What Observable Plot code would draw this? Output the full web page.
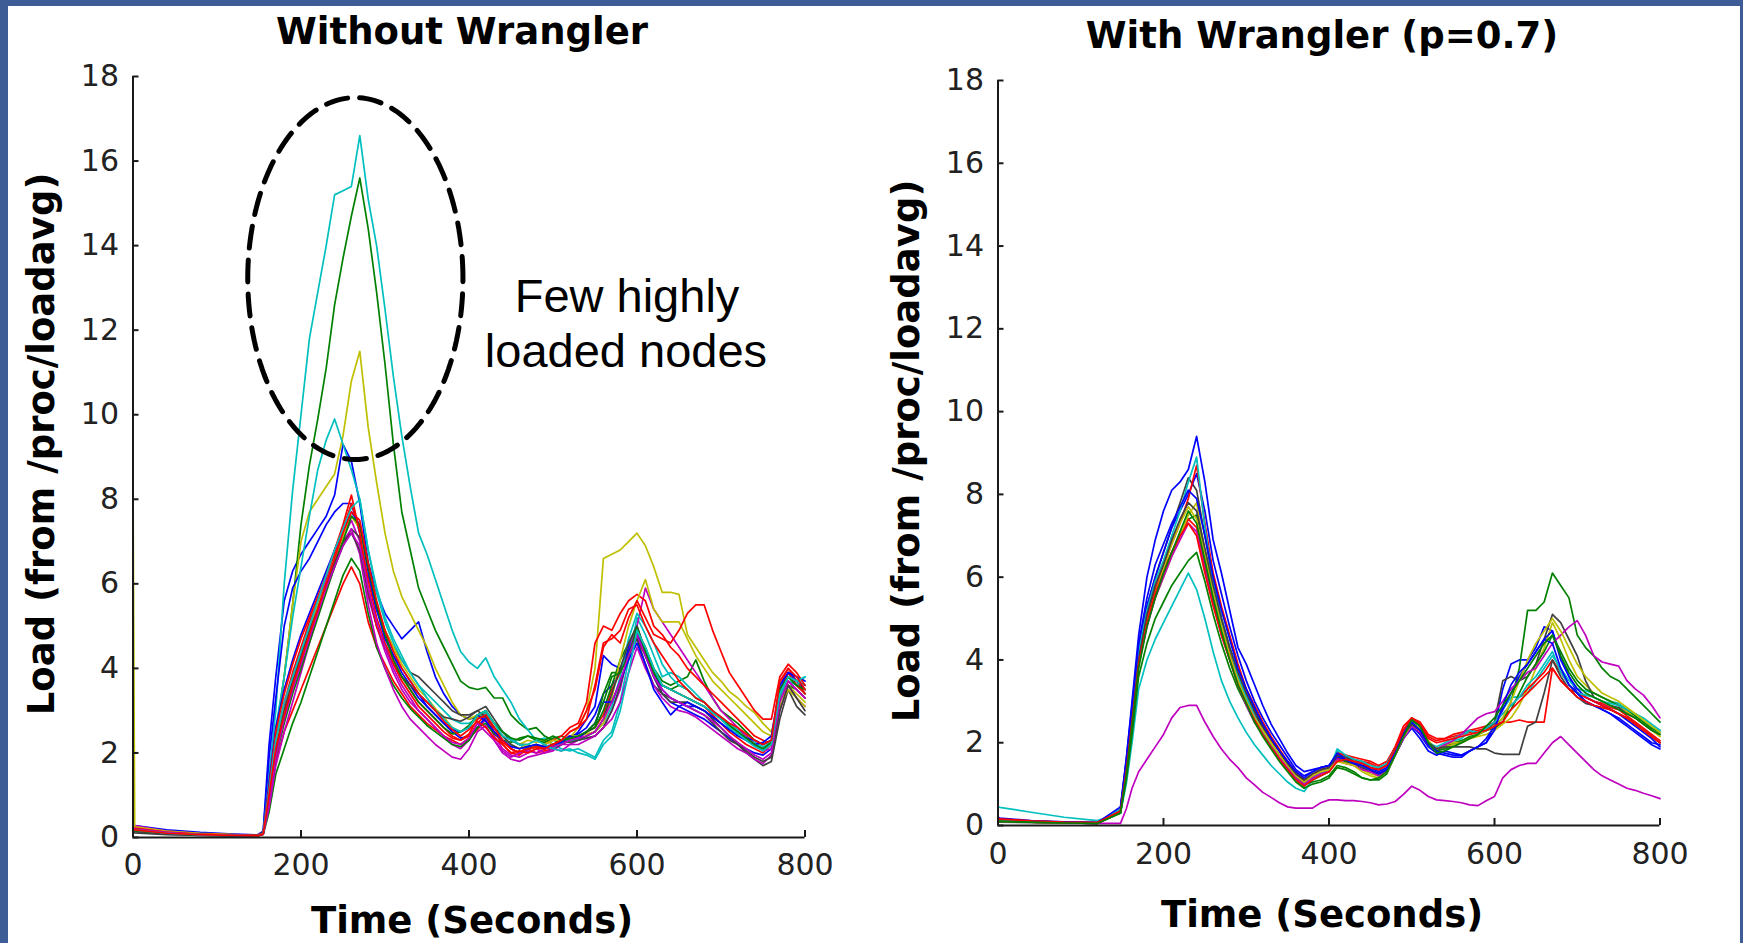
<!DOCTYPE html>
<html>
<head>
<meta charset="utf-8">
<script src="https://cdn.jsdelivr.net/npm/d3@7"></script>
<script src="https://cdn.jsdelivr.net/npm/@observablehq/plot@0.6"></script>
<style>
html, body { margin: 0; padding: 0; background: #fff; overflow: hidden; }
#page { position: relative; width: 1743px; height: 943px; overflow: hidden; background: #fff; }
.band { position: absolute; background: #3e5c96; }
.panel { position: absolute; top: 0; }
.lbl { position: absolute; white-space: nowrap; line-height: 1; color: #000;
       font-family: "DejaVu Sans", sans-serif; font-weight: bold; font-size: 37px; }
.note { position: absolute; white-space: nowrap; line-height: 1; color: #000;
        font-family: "Liberation Sans", Arial, sans-serif; font-size: 47px; }
</style>
</head>
<body>
<div id="page"></div>
<script>
// ---------- shared sample times (seconds) ----------
const times = [0,2,40,80,120,148,155,162,
  170,180,190,200,210,220,230,240,250,260,
  270,280,290,300,310,320,330,340,350,360,
  370,380,390,400,410,420,430,440,450,460,
  470,480,490,500,510,520,530,540,550,560,
  570,580,590,600,610,620,630,640,650,660,
  670,680,690,700,710,720,730,740,750,760,
  770,780,790,800];

const xTicks = [0, 200, 400, 600, 800];
const yTicks = [0, 2, 4, 6, 8, 10, 12, 14, 16, 18];

const matlabColors = {b: "#0000ff", g: "#008000", r: "#ff0000", c: "#00bfbf", m: "#bf00bf", y: "#bfbf00", k: "#404040"};

// ---------- Without Wrangler (left panel) ----------
const leftBlue1 = [0.30,0.28,0.18,0.12,0.08,0.06,0.15,2.2,
  3.8,5.6,6.3,6.7,7.0,7.3,7.6,8.1,9.3,8.9,
  7.9,6.5,5.8,5.3,5.0,4.7,4.9,5.1,4.4,3.8,
  3.4,3.1,2.9,2.8,2.85,2.95,2.7,2.5,2.3,2.2,
  2.1,2.2,2.1,2.15,2.3,2.4,2.45,2.6,2.9,3.4,
  3.6,3.9,4.5,4.9,4.3,3.8,3.4,3.2,3.1,3.0,
  2.9,2.8,2.65,2.5,2.35,2.2,2.1,2.0,1.95,2.1,
  3.3,3.9,3.7,3.5];
const leftGreen1 = [0.22,0.2,0.12,0.08,0.06,0.05,0.1,1.2,
  2.4,3.8,5.5,7.4,8.8,9.9,11.1,12.6,13.7,14.7,
  15.6,14.4,12.9,11.2,9.3,7.7,6.8,5.9,5.4,4.9,
  4.5,4.1,3.7,3.55,3.5,3.55,3.3,3.3,2.9,2.7,
  2.55,2.6,2.4,2.3,2.25,2.3,2.35,2.5,2.6,3.4,
  3.9,3.9,4.4,4.9,4.5,4.0,3.7,3.6,3.7,3.8,
  4.2,3.7,3.3,3.0,2.85,2.7,2.5,2.3,2.2,2.3,
  3.3,3.6,3.5,3.3];
const leftRed1 = [0.2,0.18,0.1,0.07,0.05,0.04,0.08,0.8,
  1.8,2.5,3.0,3.5,4.0,4.5,5.0,5.5,6.0,6.4,
  6.0,5.1,4.5,4.1,3.7,3.4,3.1,2.9,2.7,2.55,
  2.4,2.3,2.2,2.35,2.55,2.8,2.5,2.2,2.0,1.95,
  2.1,2.0,2.05,2.1,2.2,2.3,2.35,2.5,2.6,2.9,
  3.5,3.9,4.4,4.7,4.3,3.9,3.6,3.5,3.4,3.3,
  3.2,3.1,2.9,2.7,2.5,2.35,2.2,2.1,2.0,2.2,
  3.6,4.0,3.7,3.4];
const leftCyan1 = [0.25,0.22,0.14,0.09,0.06,0.05,0.1,1.5,
  3.0,6.0,8.2,10.0,11.8,12.9,14.0,15.2,15.3,15.4,
  16.6,15.1,14.0,12.5,10.9,9.5,8.3,7.2,6.7,6.1,
  5.5,4.9,4.4,4.15,4.0,4.25,3.8,3.5,3.2,2.8,
  2.55,2.3,2.35,2.2,2.1,2.05,2.1,2.0,1.9,2.3,
  2.5,3.2,4.2,5.2,4.8,4.3,3.8,3.9,3.8,3.6,
  3.4,3.2,3.0,2.85,2.7,2.55,2.4,2.25,2.15,2.2,
  3.3,3.7,3.6,3.8];
const leftMagenta1 = [0.18,0.16,0.1,0.06,0.05,0.04,0.08,1.0,
  2.2,3.1,3.7,4.3,4.9,5.5,6.1,6.6,7.1,7.5,
  7.0,5.7,5.0,4.4,3.9,3.5,3.2,3.0,2.8,2.6,
  2.4,2.2,2.1,2.3,2.6,2.8,2.4,2.1,1.95,1.9,
  2.0,2.1,2.0,2.05,2.2,2.2,2.3,2.35,2.4,2.6,
  3.0,3.5,4.4,5.0,5.9,5.4,5.1,4.8,4.5,4.2,
  3.9,3.6,3.3,3.0,2.8,2.6,2.4,2.2,2.05,2.1,
  3.2,3.7,3.5,3.3];
const leftYellow1 = [0.2,0.18,0.1,0.07,0.05,0.04,0.08,1.0,
  2.5,3.8,5.5,7.0,7.7,8.0,8.3,8.6,9.5,10.8,
  11.5,9.7,8.4,7.2,6.3,5.7,5.3,4.9,4.5,4.0,
  3.6,3.2,2.9,2.8,2.9,3.0,2.7,2.5,2.3,2.2,
  2.3,2.25,2.3,2.2,2.3,2.35,2.6,3.0,4.0,6.6,
  6.7,6.8,7.0,7.2,6.9,6.4,5.8,5.8,5.75,4.8,
  4.5,4.2,3.9,3.7,3.45,3.3,3.1,2.95,2.7,2.5,
  3.2,3.6,3.4,3.2];
const leftBlack1 = [0.15,0.14,0.08,0.05,0.04,0.05,0.1,0.9,
  2.0,2.9,3.6,4.2,4.8,5.4,5.9,6.4,6.9,7.3,
  7.1,6.2,5.4,4.9,4.5,4.2,3.9,3.8,3.6,3.4,
  3.2,3.0,2.9,2.9,3.0,3.1,2.8,2.5,2.3,2.2,
  2.2,2.1,2.2,2.1,2.2,2.3,2.3,2.35,2.4,2.6,
  3.0,3.6,4.3,4.7,4.1,3.6,3.4,3.2,3.2,3.1,
  3.0,2.9,2.7,2.5,2.3,2.2,2.0,1.85,1.7,1.8,
  2.8,3.5,3.1,2.9];
const leftBlue2 = [0.28,0.26,0.16,0.1,0.07,0.05,0.12,1.9,
  3.3,5.0,5.9,6.3,6.6,7.0,7.4,7.7,7.9,7.9,
  7.2,6.2,5.4,4.8,4.3,3.9,3.6,3.3,3.1,2.9,
  2.7,2.5,2.35,2.4,2.6,2.85,2.6,2.3,2.1,2.0,
  2.1,2.15,2.1,2.2,2.25,2.3,2.5,2.8,3.1,4.3,
  4.1,4.0,4.4,4.8,4.3,3.9,3.5,3.3,3.2,3.1,
  3.1,3.0,2.85,2.7,2.55,2.45,2.35,2.3,2.2,2.3,
  3.5,3.9,3.7,3.6];
const leftGreen2 = [0.2,0.18,0.1,0.07,0.05,0.04,0.07,0.6,
  1.5,2.1,2.7,3.2,3.8,4.4,5.0,5.6,6.2,6.6,
  6.3,5.3,4.5,4.0,3.6,3.3,3.05,2.85,2.65,2.5,
  2.35,2.2,2.15,2.3,2.6,2.7,2.45,2.3,2.25,2.35,
  2.4,2.3,2.25,2.35,2.4,2.3,2.4,2.5,2.6,3.0,
  3.6,4.2,4.6,5.0,4.4,3.9,3.6,3.5,3.6,3.5,
  3.3,3.2,3.0,2.8,2.65,2.5,2.35,2.2,2.1,2.2,
  3.4,3.8,3.6,3.4];
const leftRed2 = [0.22,0.2,0.12,0.08,0.05,0.04,0.09,1.1,
  2.3,3.2,3.9,4.5,5.1,5.6,6.2,6.7,7.3,7.9,
  7.3,6.1,5.2,4.6,4.2,3.8,3.5,3.2,3.0,2.8,
  2.6,2.4,2.3,2.4,2.7,2.9,2.5,2.25,2.1,2.0,
  2.15,2.1,2.2,2.3,2.4,2.6,2.7,3.2,4.6,5.0,
  4.9,5.3,5.6,5.75,5.6,5.0,4.8,4.5,4.3,4.0,
  3.8,3.6,3.4,3.2,3.0,2.8,2.6,2.4,2.3,2.2,
  3.4,3.9,3.6,3.4];
const leftCyan2 = [0.24,0.22,0.13,0.08,0.06,0.05,0.1,1.4,
  2.6,3.8,5.2,6.4,7.6,8.7,9.4,9.9,9.3,8.7,
  8.0,6.8,5.8,5.1,4.6,4.2,3.9,3.6,3.4,3.2,
  3.0,2.8,2.7,2.7,2.8,2.95,2.7,2.5,2.35,2.2,
  2.1,2.2,2.15,2.1,2.25,2.3,2.3,2.4,2.5,2.7,
  3.1,3.8,4.7,5.3,5.0,4.6,4.1,3.8,3.6,3.5,
  3.3,3.2,3.0,2.8,2.6,2.45,2.3,2.2,2.1,2.3,
  3.4,3.8,3.7,3.6];
const leftMagenta2 = [0.3,0.28,0.15,0.09,0.06,0.05,0.08,0.7,
  1.7,2.5,3.2,3.9,4.6,5.3,5.9,6.5,7.0,7.3,
  6.7,5.5,4.6,4.0,3.5,3.1,2.8,2.6,2.4,2.2,
  2.05,1.9,1.85,2.1,2.5,2.65,2.3,2.0,1.85,1.8,
  1.9,1.95,2.0,2.1,2.05,2.2,2.2,2.3,2.4,2.6,
  2.8,3.2,3.9,4.5,4.0,3.6,3.3,3.1,3.0,2.95,
  2.85,2.7,2.55,2.4,2.25,2.1,2.0,1.85,1.75,1.95,
  3.0,3.6,3.3,3.1];
const leftYellow2 = [8.4,0.25,0.15,0.1,0.07,0.05,0.1,1.1,
  2.2,3.0,3.7,4.3,4.9,5.5,6.0,6.6,7.1,7.6,
  7.3,6.3,5.5,4.9,4.5,4.1,3.8,3.5,3.3,3.05,
  2.85,2.6,2.5,2.6,2.85,3.0,2.7,2.4,2.2,2.1,
  2.2,2.1,2.2,2.3,2.3,2.4,2.4,2.45,2.5,2.7,
  3.3,4.2,5.0,5.6,6.1,5.4,5.1,5.1,5.1,4.7,
  4.3,4.0,3.7,3.5,3.3,3.1,2.9,2.7,2.5,2.4,
  3.1,3.5,3.3,3.1];
const leftBlack2 = [0.12,0.11,0.07,0.05,0.04,0.06,0.12,1.0,
  2.1,3.0,3.7,4.3,4.9,5.4,6.0,6.5,7.0,7.2,
  6.8,5.8,5.0,4.5,4.1,3.8,3.6,3.4,3.2,3.0,
  2.85,2.8,2.75,2.85,3.0,2.85,2.6,2.4,2.2,2.1,
  2.15,2.2,2.1,2.2,2.3,2.25,2.3,2.4,2.5,2.8,
  3.4,4.0,4.6,5.0,4.4,3.8,3.4,3.3,3.2,3.2,
  3.1,3.0,2.8,2.6,2.4,2.2,2.05,1.9,1.8,1.9,
  3.0,3.6,3.3,3.0];
const leftBlue3 = [0.2,0.18,0.1,0.07,0.05,0.04,0.09,1.3,
  2.6,3.5,4.2,4.8,5.3,5.8,6.3,6.8,7.3,7.7,
  7.4,6.3,5.4,4.7,4.3,4.0,3.7,3.4,3.1,2.9,
  2.7,2.55,2.5,2.6,2.9,2.75,2.5,2.3,2.15,2.1,
  2.15,2.2,2.15,2.2,2.25,2.4,2.35,2.5,2.7,3.2,
  3.2,3.7,4.2,4.6,4.1,3.5,3.2,2.9,3.1,3.2,
  3.1,3.0,2.85,2.7,2.55,2.4,2.3,2.2,2.25,2.4,
  3.6,3.9,3.8,3.7];
const leftGreen3 = [0.18,0.16,0.1,0.06,0.05,0.04,0.08,0.9,
  1.9,2.7,3.4,4.0,4.6,5.2,5.8,6.4,7.0,7.6,
  7.4,6.4,5.5,4.8,4.2,3.8,3.5,3.2,3.0,2.8,
  2.6,2.45,2.5,2.65,2.9,3.0,2.7,2.5,2.35,2.3,
  2.4,2.35,2.3,2.4,2.3,2.35,2.4,2.5,2.7,3.2,
  3.8,3.9,4.3,4.95,4.4,3.9,3.6,3.5,3.4,3.3,
  3.2,3.1,2.95,2.8,2.65,2.5,2.35,2.2,2.1,2.25,
  3.5,3.8,3.6,3.5];
const leftRed3 = [0.25,0.22,0.13,0.08,0.06,0.05,0.1,1.2,
  2.5,3.4,4.1,4.7,5.2,5.7,6.2,6.8,7.4,8.1,
  7.2,5.9,5.0,4.5,4.1,3.7,3.4,3.1,2.9,2.7,
  2.5,2.35,2.3,2.45,2.8,2.9,2.6,2.3,2.1,2.0,
  2.1,2.15,2.1,2.2,2.3,2.5,2.6,3.0,3.5,4.5,
  4.8,4.6,5.2,5.6,5.2,4.8,4.7,4.6,4.9,5.3,
  5.5,5.5,4.9,4.4,3.9,3.6,3.3,3.0,2.8,2.8,
  3.8,4.1,3.9,3.6];
const leftMagenta3 = [0.22,0.2,0.12,0.07,0.05,0.04,0.08,0.8,
  1.9,2.8,3.5,4.1,4.7,5.3,5.9,6.4,6.9,7.2,
  6.9,5.9,5.1,4.5,4.0,3.6,3.3,3.0,2.8,2.6,
  2.4,2.25,2.2,2.35,2.7,2.5,2.3,2.05,1.9,2.0,
  2.05,2.0,2.1,2.15,2.2,2.3,2.35,2.4,2.5,2.8,
  3.2,3.7,4.3,4.8,4.3,3.8,3.5,3.3,3.2,3.1,
  3.0,2.9,2.75,2.6,2.4,2.25,2.1,1.95,1.85,2.0,
  3.2,3.7,3.5,3.3];
const leftCyan3 = [0.2,0.18,0.1,0.07,0.05,0.04,0.09,1.1,
  2.3,3.2,3.8,4.4,5.0,5.6,6.2,6.8,7.3,7.8,
  8.0,6.8,5.9,5.2,4.7,4.3,3.9,3.6,3.3,3.0,
  2.8,2.6,2.5,2.6,2.9,3.0,2.7,2.4,2.3,2.2,
  2.2,2.3,2.2,2.1,2.05,2.1,2.0,1.95,1.85,2.2,
  2.4,3.0,3.9,4.9,4.5,4.0,3.6,3.5,3.4,3.3,
  3.2,3.1,2.95,2.8,2.6,2.45,2.3,2.15,2.05,2.2,
  3.4,3.8,3.7,3.8];
const leftRed4 = [0.2,0.18,0.1,0.07,0.05,0.04,0.08,1.0,
  2.1,2.9,3.6,4.2,4.8,5.4,6.0,6.6,7.2,7.7,
  7.5,6.5,5.6,4.9,4.4,4.0,3.7,3.4,3.2,3.0,
  2.75,2.55,2.4,2.55,2.75,2.6,2.35,2.2,2.0,2.05,
  2.0,2.1,2.1,2.2,2.3,2.5,2.6,2.8,3.6,4.6,
  4.7,4.9,5.4,5.5,5.0,4.6,4.3,4.0,3.7,3.5,
  3.3,3.2,3.0,2.85,2.7,2.6,2.45,2.3,2.2,2.3,
  3.7,4.0,3.8,3.5];

// ---------- With Wrangler (p=0.7) (right panel) ----------
const rightBlue1 = [0.15,0.14,0.1,0.08,0.07,0.4,1.6,3.0,
  4.6,6.0,6.9,7.6,8.1,8.3,8.6,9.4,8.3,6.9,
  6.1,5.2,4.3,3.9,3.4,2.9,2.45,2.1,1.75,1.45,
  1.3,1.35,1.4,1.45,1.7,1.55,1.45,1.4,1.3,1.25,
  1.35,1.7,2.1,2.35,2.1,1.8,1.7,1.8,1.75,1.7,
  1.8,1.9,2.0,2.4,3.3,3.9,4.0,4.0,4.3,4.8,
  4.7,4.1,3.6,3.2,3.0,2.9,2.8,2.7,2.6,2.45,
  2.3,2.15,2.0,1.95];
const rightGreen1 = [0.1,0.1,0.08,0.07,0.06,0.3,1.2,2.4,
  3.9,4.9,5.6,6.1,6.6,7.0,7.4,7.5,6.5,5.6,
  4.8,4.1,3.5,3.0,2.6,2.25,1.95,1.7,1.45,1.2,
  1.05,1.1,1.2,1.3,1.6,1.55,1.5,1.45,1.35,1.25,
  1.3,1.8,2.3,2.55,2.4,2.0,1.8,1.9,2.0,2.05,
  2.15,2.2,2.3,2.35,2.5,3.0,3.8,5.2,5.2,5.4,
  6.1,5.8,5.5,4.6,4.3,4.1,3.8,3.6,3.5,3.3,
  3.1,2.9,2.7,2.5];
const rightRed1 = [0.12,0.12,0.1,0.08,0.07,0.35,1.3,2.6,
  4.1,5.0,5.7,6.2,6.6,7.0,7.4,7.2,6.3,5.5,
  4.8,4.2,3.6,3.1,2.7,2.35,2.05,1.8,1.5,1.25,
  1.05,1.2,1.3,1.35,1.6,1.7,1.65,1.6,1.55,1.45,
  1.55,1.9,2.3,2.6,2.5,2.2,2.1,2.1,2.15,2.2,
  2.25,2.3,2.35,2.45,2.5,2.5,2.55,2.5,2.5,2.5,
  3.8,3.5,3.3,3.2,3.1,3.0,2.95,2.85,2.8,2.65,
  2.5,2.35,2.2,2.05];
const rightCyan1 = [0.45,0.44,0.32,0.2,0.12,0.3,1.0,2.0,
  3.3,4.0,4.5,4.9,5.3,5.7,6.1,5.7,5.0,4.2,
  3.5,3.0,2.6,2.25,1.95,1.7,1.45,1.25,1.05,0.9,
  0.82,1.1,1.25,1.35,1.8,1.65,1.6,1.5,1.45,1.4,
  1.5,1.85,2.2,2.45,2.3,2.0,1.85,1.95,2.05,2.1,
  2.3,2.25,2.3,2.5,2.8,3.1,3.1,3.2,3.5,3.8,
  4.1,3.8,3.5,3.3,3.25,3.2,3.1,3.0,2.95,2.8,
  2.7,2.6,2.45,2.3];
const rightMagenta1 = [0.1,0.1,0.08,0.06,0.05,0.05,0.4,0.9,
  1.3,1.6,1.9,2.2,2.6,2.85,2.9,2.9,2.5,2.15,
  1.85,1.6,1.4,1.15,0.98,0.8,0.68,0.55,0.45,0.42,
  0.42,0.42,0.55,0.62,0.62,0.6,0.6,0.58,0.55,0.5,
  0.52,0.58,0.75,0.95,0.85,0.7,0.62,0.6,0.58,0.55,
  0.5,0.48,0.6,0.7,1.15,1.35,1.45,1.5,1.5,1.75,
  2.0,2.15,1.95,1.75,1.55,1.35,1.2,1.1,1.0,0.9,
  0.85,0.78,0.72,0.65];
const rightYellow1 = [0.1,0.1,0.08,0.06,0.05,0.35,1.4,2.7,
  4.0,4.9,5.5,6.0,6.5,7.0,7.5,7.8,6.6,5.6,
  4.8,4.1,3.5,3.0,2.6,2.2,1.9,1.65,1.4,1.15,
  1.0,1.15,1.25,1.3,1.55,1.5,1.45,1.35,1.25,1.2,
  1.3,1.75,2.2,2.5,2.35,2.05,1.85,1.95,2.0,2.0,
  2.1,2.15,2.2,2.3,2.45,2.6,2.9,3.3,3.8,4.3,
  4.9,4.5,4.0,3.6,3.4,3.2,3.1,3.0,2.9,2.75,
  2.6,2.45,2.3,2.15];
const rightBlack1 = [0.08,0.08,0.07,0.06,0.05,0.4,1.5,2.8,
  4.3,5.3,6.0,6.6,7.2,7.8,8.4,8.1,7.0,5.9,
  5.0,4.3,3.7,3.2,2.75,2.35,2.0,1.7,1.45,1.2,
  1.05,1.2,1.3,1.35,1.7,1.6,1.5,1.4,1.3,1.25,
  1.35,1.7,2.1,2.4,2.3,2.0,1.85,1.9,1.95,2.0,
  2.1,2.2,2.3,2.5,3.5,3.6,3.5,3.6,3.9,4.5,
  5.1,4.9,4.5,4.1,3.5,3.1,3.0,2.9,2.85,2.7,
  2.6,2.45,2.3,2.2];
const rightBlue2 = [0.12,0.12,0.09,0.07,0.06,0.4,1.5,2.8,
  4.2,5.3,6.0,6.6,7.2,7.6,8.0,8.5,7.6,6.4,
  5.6,4.8,4.1,3.5,3.0,2.6,2.25,1.95,1.65,1.35,
  1.2,1.3,1.4,1.45,1.65,1.6,1.5,1.45,1.4,1.3,
  1.4,1.75,2.15,2.4,2.2,1.9,1.75,1.7,1.65,1.65,
  1.8,1.9,2.1,2.4,2.8,3.2,3.6,3.9,4.2,4.5,
  4.7,4.0,3.6,3.3,3.1,3.0,2.9,2.8,2.7,2.55,
  2.4,2.25,2.1,1.9];
const rightGreen2 = [0.1,0.1,0.08,0.06,0.05,0.3,1.1,2.2,
  3.6,4.4,5.0,5.4,5.8,6.1,6.4,6.6,5.9,5.1,
  4.4,3.8,3.3,2.9,2.5,2.2,1.9,1.65,1.4,1.15,
  1.0,1.05,1.1,1.2,1.45,1.4,1.3,1.15,1.1,1.1,
  1.25,1.7,2.2,2.6,2.4,2.0,1.8,1.85,1.9,2.0,
  2.1,2.2,2.3,2.4,2.6,2.8,3.2,3.6,3.9,4.2,
  4.6,4.2,3.8,3.5,3.3,3.2,3.1,3.0,2.9,2.8,
  2.65,2.5,2.35,2.25];
const rightRed2 = [0.15,0.14,0.1,0.08,0.07,0.35,1.3,2.6,
  4.1,5.1,5.8,6.3,6.8,7.3,7.9,8.7,7.3,6.1,
  5.3,4.6,3.9,3.3,2.9,2.5,2.15,1.85,1.55,1.3,
  1.1,1.2,1.35,1.4,1.75,1.7,1.6,1.55,1.5,1.4,
  1.5,1.9,2.4,2.6,2.45,2.15,2.05,2.1,2.2,2.25,
  2.3,2.35,2.4,2.5,2.7,2.9,3.1,3.3,3.5,3.7,
  4.0,3.7,3.4,3.2,3.1,3.0,2.9,2.8,2.7,2.6,
  2.45,2.3,2.15,2.0];
const rightCyan2 = [0.12,0.12,0.09,0.07,0.06,0.4,1.4,2.7,
  4.2,5.2,5.9,6.4,7.0,7.6,8.3,8.9,7.2,5.9,
  5.0,4.3,3.6,3.1,2.65,2.25,1.95,1.65,1.4,1.1,
  0.95,1.15,1.3,1.35,1.85,1.7,1.6,1.55,1.45,1.4,
  1.5,1.85,2.25,2.5,2.3,2.0,1.9,2.0,2.1,2.2,
  2.3,2.2,2.35,2.5,2.7,2.9,3.1,3.4,3.6,3.9,
  4.2,3.7,3.4,3.2,3.15,3.1,3.0,2.95,2.9,2.8,
  2.7,2.55,2.4,2.3];
const rightMagenta2 = [0.1,0.1,0.08,0.06,0.05,0.35,1.3,2.5,
  3.9,4.8,5.5,6.0,6.5,6.9,7.3,7.1,6.2,5.4,
  4.6,4.0,3.4,2.9,2.5,2.2,1.9,1.65,1.4,1.15,
  1.0,1.15,1.25,1.3,1.6,1.5,1.45,1.35,1.3,1.2,
  1.3,1.7,2.1,2.4,2.25,1.95,1.85,1.95,2.05,2.2,
  2.4,2.6,2.7,2.75,3.0,3.3,3.5,3.7,3.8,4.1,
  4.4,4.6,4.8,4.95,4.6,4.1,3.95,3.9,3.85,3.5,
  3.3,3.15,2.9,2.6];
const rightYellow2 = [0.1,0.1,0.08,0.06,0.05,0.35,1.4,2.6,
  4.0,4.9,5.6,6.2,6.8,7.3,7.7,7.4,6.5,5.6,
  4.8,4.1,3.5,3.0,2.6,2.3,2.0,1.7,1.45,1.2,
  1.05,1.2,1.3,1.35,1.55,1.5,1.45,1.3,1.2,1.15,
  1.3,1.7,2.15,2.45,2.3,2.0,1.85,1.9,1.95,2.0,
  2.1,2.2,2.3,2.4,2.6,3.0,3.5,4.0,4.4,4.7,
  5.0,4.7,4.3,3.9,3.6,3.4,3.2,3.1,3.0,2.85,
  2.7,2.55,2.4,2.25];
const rightBlack2 = [0.1,0.1,0.08,0.06,0.05,0.35,1.3,2.6,
  4.0,5.1,5.8,6.3,6.9,7.4,7.8,7.6,6.7,5.8,
  5.0,4.3,3.7,3.2,2.8,2.4,2.1,1.8,1.5,1.25,
  1.1,1.25,1.35,1.4,1.7,1.65,1.55,1.5,1.4,1.35,
  1.45,1.8,2.2,2.45,2.3,2.0,1.85,1.9,1.9,1.9,
  1.9,1.85,1.85,1.75,1.72,1.72,1.72,2.4,2.5,3.2,
  4.0,3.6,3.3,3.1,2.95,2.9,2.85,2.8,2.7,2.6,
  2.45,2.3,2.15,2.0];
const rightBlue3 = [0.2,0.18,0.12,0.09,0.07,0.45,1.6,2.9,
  4.4,5.5,6.3,6.8,7.3,7.7,8.1,7.9,7.0,6.0,
  5.2,4.5,3.8,3.3,2.85,2.45,2.1,1.8,1.55,1.3,
  1.15,1.3,1.4,1.45,1.75,1.6,1.5,1.45,1.35,1.25,
  1.35,1.8,2.25,2.5,2.3,1.95,1.8,1.75,1.7,1.7,
  1.8,1.9,2.0,2.3,2.9,3.4,3.7,3.9,4.2,4.5,
  4.4,3.8,3.4,3.2,3.0,2.9,2.8,2.7,2.55,2.4,
  2.25,2.1,1.95,1.85];
const rightRed3 = [0.18,0.16,0.11,0.08,0.07,0.35,1.3,2.5,
  3.9,4.9,5.6,6.1,6.6,7.0,7.3,7.0,6.1,5.3,
  4.6,4.0,3.4,2.95,2.55,2.2,1.9,1.6,1.35,1.1,
  0.95,1.1,1.2,1.3,1.55,1.6,1.55,1.5,1.4,1.35,
  1.45,1.85,2.3,2.6,2.45,2.1,2.0,2.05,2.1,2.15,
  2.2,2.25,2.3,2.4,2.5,2.8,3.0,3.2,3.4,3.6,
  3.8,3.5,3.3,3.1,3.0,2.9,2.85,2.8,2.7,2.6,
  2.45,2.3,2.15,2.0];
const rightGreen3 = [0.1,0.1,0.08,0.06,0.05,0.3,1.2,2.4,
  3.8,4.8,5.5,6.1,6.6,7.1,7.6,7.3,6.4,5.5,
  4.7,4.0,3.4,2.95,2.5,2.15,1.85,1.55,1.3,1.05,
  0.9,1.0,1.05,1.15,1.4,1.35,1.25,1.15,1.1,1.15,
  1.3,1.7,2.15,2.55,2.4,2.0,1.75,1.8,1.9,2.0,
  2.1,2.2,2.4,2.6,2.9,3.2,3.5,3.8,4.1,4.4,
  4.6,4.1,3.7,3.4,3.2,3.1,3.0,2.9,2.8,2.7,
  2.6,2.45,2.3,2.2];

const leftSeries = [
  {id: "L1", c: "b", values: leftBlue1}, {id: "L2", c: "g", values: leftGreen1},
  {id: "L3", c: "r", values: leftRed1}, {id: "L4", c: "c", values: leftCyan1},
  {id: "L5", c: "m", values: leftMagenta1}, {id: "L6", c: "y", values: leftYellow1},
  {id: "L7", c: "k", values: leftBlack1}, {id: "L8", c: "b", values: leftBlue2},
  {id: "L9", c: "g", values: leftGreen2}, {id: "L10", c: "r", values: leftRed2},
  {id: "L11", c: "c", values: leftCyan2}, {id: "L12", c: "m", values: leftMagenta2},
  {id: "L13", c: "y", values: leftYellow2}, {id: "L14", c: "k", values: leftBlack2},
  {id: "L15", c: "b", values: leftBlue3}, {id: "L16", c: "g", values: leftGreen3},
  {id: "L17", c: "r", values: leftRed3}, {id: "L18", c: "m", values: leftMagenta3},
  {id: "L19", c: "c", values: leftCyan3}, {id: "L20", c: "r", values: leftRed4}
];
const rightSeries = [
  {id: "R1", c: "b", values: rightBlue1}, {id: "R2", c: "g", values: rightGreen1},
  {id: "R3", c: "r", values: rightRed1}, {id: "R4", c: "c", values: rightCyan1},
  {id: "R5", c: "m", values: rightMagenta1}, {id: "R6", c: "y", values: rightYellow1},
  {id: "R7", c: "k", values: rightBlack1}, {id: "R8", c: "b", values: rightBlue2},
  {id: "R9", c: "g", values: rightGreen2}, {id: "R10", c: "r", values: rightRed2},
  {id: "R11", c: "c", values: rightCyan2}, {id: "R12", c: "m", values: rightMagenta2},
  {id: "R13", c: "y", values: rightYellow2}, {id: "R14", c: "k", values: rightBlack2},
  {id: "R15", c: "b", values: rightBlue3}, {id: "R16", c: "r", values: rightRed3},
  {id: "R17", c: "g", values: rightGreen3}
];

// annotation ellipse (data units: seconds, load)
const ellipseCenter = [264.7, 13.22];
const ellipseRadii = [128.1, 4.28];

// ---------- drawing ----------
const axisColor = "#1a1a1a";

function toRows(series) {
  return series.flatMap(s => times.map((t, i) => ({t, v: s.values[i], id: s.id, color: matlabColors[s.c]}))
    .filter(d => d.v != null));
}

function makePanel(series, box, extra = []) {
  const plotW = box.width - box.ml - box.mr;
  const plotH = box.height - box.mt - box.mb;
  return Plot.plot({
    width: box.width, height: box.height,
    marginLeft: box.ml, marginRight: box.mr, marginTop: box.mt, marginBottom: box.mb,
    x: {domain: [0, 800], label: null},
    y: {domain: [0, 18], label: null},
    color: {type: "identity"},
    style: {fontFamily: "DejaVu Sans, sans-serif", fontSize: "30px", color: "#222", background: "transparent", overflow: "visible"},
    marks: [
      Plot.line(toRows(series), {x: "t", y: "v", z: "id", stroke: "color", strokeWidth: 1.7}),
      Plot.ruleX([0], {stroke: axisColor, strokeWidth: 2}),
      Plot.ruleY([0], {stroke: axisColor, strokeWidth: 2}),
      Plot.tickX(xTicks, {x: d => d, insetTop: plotH - 7, stroke: axisColor, strokeWidth: 2}),
      Plot.tickY(yTicks, {y: d => d, insetRight: plotW - 6, stroke: axisColor, strokeWidth: 2}),
      Plot.axisX(xTicks, {tickSize: 0, tickPadding: box.xpad, label: null, tickFormat: d => String(d)}),
      Plot.axisY(yTicks, {tickSize: 0, tickPadding: 14, label: null, tickFormat: d => String(d)}),
      ...extra
    ]
  });
}

const ellipsePts = d3.range(0, 360, 2).map(a => ({
  t: ellipseCenter[0] + ellipseRadii[0] * Math.cos(a * Math.PI / 180),
  v: ellipseCenter[1] + ellipseRadii[1] * Math.sin(a * Math.PI / 180)
}));

const page = document.getElementById("page");

const left = makePanel(leftSeries, {width: 870, height: 943, ml: 132.5, mr: 65.5, mt: 76, mb: 106, xpad: 16}, [
  Plot.line(ellipsePts, {x: "t", y: "v", curve: "linear-closed", stroke: "#000", strokeWidth: 5, strokeDasharray: "22,12"})
]);
left.classList.add("panel");
left.style.left = "0px";
page.appendChild(left);

const right = makePanel(rightSeries, {width: 873, height: 943, ml: 127.5, mr: 83.5, mt: 80, mb: 118, xpad: 17});
right.classList.add("panel");
right.style.left = "870px";
page.appendChild(right);

// frame bands
[[0, 0, 1743, 6], [0, 0, 8, 943], [1740, 0, 3, 943]].forEach(([x, y, w, h]) => {
  const d = document.createElement("div");
  d.className = "band";
  Object.assign(d.style, {left: x + "px", top: y + "px", width: w + "px", height: h + "px"});
  page.appendChild(d);
});

// titles, axis labels, annotation
const texts = [
  {text: "Without Wrangler", x: 462, y: 31, cls: "lbl"},
  {text: "With Wrangler (p=0.7)", x: 1322, y: 35, cls: "lbl"},
  {text: "Time (Seconds)", x: 472, y: 920, cls: "lbl"},
  {text: "Time (Seconds)", x: 1322, y: 914, cls: "lbl"},
  {text: "Load (from /proc/loadavg)", x: 41, y: 444, cls: "lbl", rot: true},
  {text: "Load (from /proc/loadavg)", x: 906, y: 451, cls: "lbl", rot: true},
  {text: "Few highly", x: 627, y: 295, cls: "note"},
  {text: "loaded nodes", x: 626, y: 350, cls: "note"}
];
texts.forEach(o => {
  const d = document.createElement("div");
  d.className = o.cls;
  d.textContent = o.text;
  d.style.left = o.x + "px";
  d.style.top = o.y + "px";
  d.style.transform = "translate(-50%,-50%)" + (o.rot ? " rotate(-90deg)" : "");
  page.appendChild(d);
});
</script>
</body>
</html>
